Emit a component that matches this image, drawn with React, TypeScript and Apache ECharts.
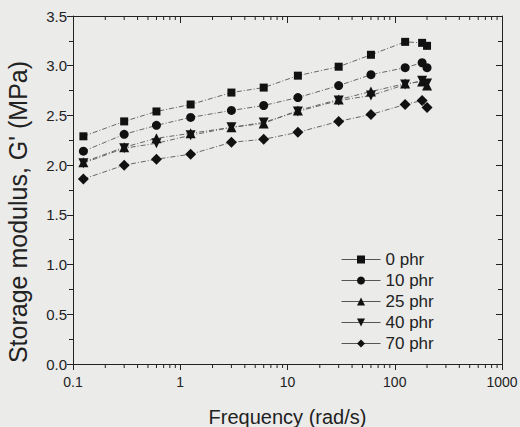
import React, { useEffect, useRef } from "react";
import * as echarts from "echarts";

const frequencies = [0.125, 0.3, 0.6, 1.25, 3, 6, 12.5, 30, 60, 125, 180, 200];
const phr0 = [2.29, 2.44, 2.54, 2.61, 2.73, 2.78, 2.9, 2.99, 3.11, 3.24, 3.23, 3.2];
const phr10 = [2.14, 2.31, 2.4, 2.48, 2.55, 2.6, 2.68, 2.8, 2.91, 2.98, 3.03, 2.98];
const phr25 = [2.03, 2.18, 2.27, 2.32, 2.38, 2.42, 2.55, 2.66, 2.74, 2.82, 2.84, 2.8];
const phr40 = [2.02, 2.17, 2.22, 2.3, 2.38, 2.43, 2.54, 2.65, 2.7, 2.81, 2.85, 2.82];
const phr70 = [1.86, 2.0, 2.06, 2.11, 2.23, 2.26, 2.33, 2.44, 2.51, 2.61, 2.65, 2.58];

const seriesNames = ["0 phr", "10 phr", "25 phr", "40 phr", "70 phr"];
const seriesValues = [phr0, phr10, phr25, phr40, phr70];
const seriesSymbols = [
  "rect",
  "circle",
  "triangle",
  "path://M0,0L2,0L1,1.732Z",
  "diamond",
];
const symbolSizes = [8, 9, 10, 10, 11];

const decades = [0.1, 1, 10, 100];
const minorMultipliers = [2, 3, 4, 5, 6, 7, 8, 9];
const xMinorTicks = decades.flatMap((d) => minorMultipliers.map((m) => +(d * m).toPrecision(3)));

const yMin = 0;
const yMax = 3.5;
const yStep = 0.5;

export default function App() {
  const ref = useRef<HTMLDivElement>(null);
  useEffect(() => {
    if (!ref.current) return;
    const chart = echarts.init(ref.current, undefined, { renderer: "svg" });
    const axisColor = "#222";
    const font = "Liberation Sans, Arial, sans-serif";

    const lineSeries = seriesNames.map((name, i) => ({
      name,
      type: "line",
      xAxisIndex: 0,
      yAxisIndex: 0,
      data: frequencies.map((f, j) => [f, seriesValues[i][j]]),
      symbol: seriesSymbols[i],
      symbolSize: symbolSizes[i],
      showAllSymbol: true,
      itemStyle: { color: "#111" },
      lineStyle: { color: "#666", width: 1, type: [5, 2, 1, 2] },
      z: 3,
    }));

    const minorTickSeries = {
      type: "custom",
      xAxisIndex: 0,
      yAxisIndex: 0,
      silent: true,
      clip: false,
      data: xMinorTicks.map((v) => [v, yMin]),
      renderItem: (params: any, api: any) => {
        const v = api.value(0);
        const bottom = api.coord([v, yMin]);
        const top = api.coord([v, yMax]);
        const st = { stroke: axisColor, lineWidth: 1 };
        return {
          type: "group",
          children: [
            { type: "line", shape: { x1: bottom[0], y1: bottom[1], x2: bottom[0], y2: bottom[1] + 4 }, style: st },
            { type: "line", shape: { x1: top[0], y1: top[1], x2: top[0], y2: top[1] + 4 }, style: st },
          ],
        };
      },
      z: 5,
    };

    chart.setOption({
      animation: false,
      backgroundColor: "#ebebea",
      textStyle: { fontFamily: font, color: axisColor },
      grid: { left: 73, right: 18, top: 16, bottom: 63, containLabel: false, outerBoundsMode: "none" },
      legend: {
        data: seriesNames,
        orient: "vertical",
        left: 336,
        top: 246,
        itemWidth: 39,
        itemHeight: 10,
        itemGap: 4,
        textStyle: { fontSize: 17, color: "#222", fontFamily: font },
        lineStyle: { type: "solid", color: "#555", width: 1 },
        inactiveColor: "#111",
      },
      xAxis: [
        {
          type: "log",
          logBase: 10,
          min: 0.1,
          max: 1000,
          position: "bottom",
          name: "Frequency (rad/s)",
          nameLocation: "middle",
          nameGap: 43,
          nameTextStyle: { fontSize: 20, color: "#222", fontFamily: font },
          axisLine: { show: true, onZero: false, lineStyle: { color: axisColor, width: 1 } },
          axisTick: { show: true, inside: false, length: 6, lineStyle: { color: axisColor } },
          axisLabel: {
            fontSize: 14,
            color: "#222",
            margin: 11,
            formatter: (v: number) => (v < 1 ? v.toFixed(1) : String(Math.round(v))),
          },
          splitLine: { show: false },
          minorTick: { show: false },
        },
        {
          type: "log",
          logBase: 10,
          min: 0.1,
          max: 1000,
          position: "top",
          axisLine: { show: true, onZero: false, lineStyle: { color: axisColor, width: 1 } },
          axisTick: { show: true, inside: true, length: 7, lineStyle: { color: axisColor } },
          axisLabel: { show: false },
          splitLine: { show: false },
        },
      ],
      yAxis: [
        {
          type: "value",
          min: yMin,
          max: yMax,
          interval: yStep,
          position: "left",
          name: "Storage modulus, G' (MPa)",
          nameLocation: "middle",
          nameGap: 43,
          nameTextStyle: { fontSize: 25, color: "#222", fontFamily: font, padding: [0, 44, 0, 0] },
          axisLine: { show: true, onZero: false, lineStyle: { color: axisColor, width: 1 } },
          axisTick: { show: true, inside: false, length: 6, lineStyle: { color: axisColor } },
          minorTick: { show: true, splitNumber: 2, length: 4, lineStyle: { color: axisColor } },
          axisLabel: {
            fontSize: 15,
            color: "#222",
            margin: 6,
            formatter: (v: number) => v.toFixed(1),
          },
          splitLine: { show: false },
        },
        {
          type: "value",
          min: yMin,
          max: yMax,
          interval: yStep,
          position: "right",
          axisLine: { show: true, onZero: false, lineStyle: { color: axisColor, width: 1 } },
          axisTick: { show: true, inside: true, length: 6, lineStyle: { color: axisColor } },
          minorTick: { show: true, splitNumber: 2, length: 4, lineStyle: { color: axisColor } },
          axisLabel: { show: false },
          splitLine: { show: false },
        },
      ],
      series: [...lineSeries, minorTickSeries],
    });
    return () => chart.dispose();
  }, []);
  return (
    <div
      ref={ref}
      style={{ position: "fixed", left: 0, top: 0, width: 520, height: 427 }}
    />
  );
}
